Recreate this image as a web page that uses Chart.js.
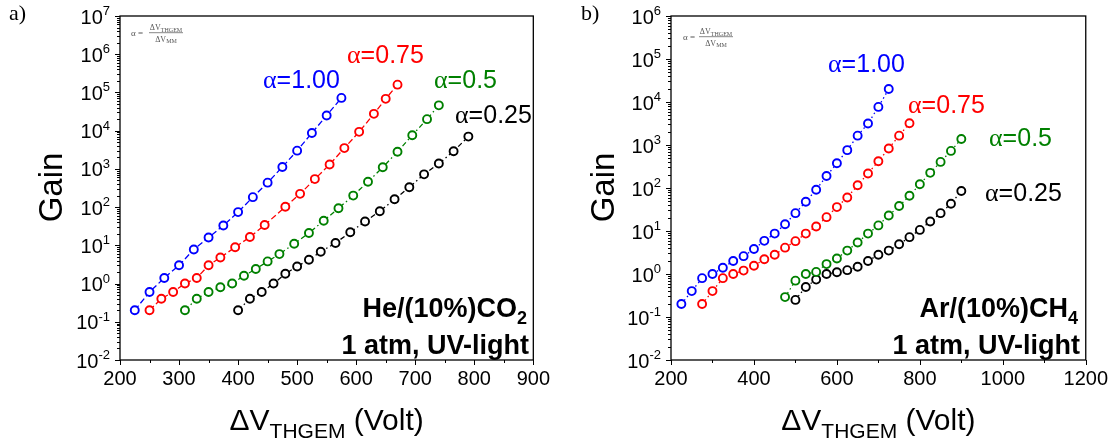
<!DOCTYPE html>
<html>
<head>
<meta charset="utf-8">
<script src="https://cdn.jsdelivr.net/npm/chart.js@4.4.1/dist/chart.umd.min.js"></script>
<style>
  body { margin: 0; background: #fff; }
  #wrap { position: relative; width: 1115px; height: 446px; overflow: hidden; }
  canvas { position: absolute; top: 0; }
</style>
</head>
<body>
<div id="wrap">
  <canvas id="chartHe" width="557" height="446" style="left:0px"></canvas>
  <canvas id="chartAr" width="558" height="446" style="left:557px"></canvas>
</div>
<script>
/*
  Gain curves for two gas mixtures, one line per alpha value.
  Values.
*/

// He/(10%)CO2 panel
const heV100 = [225, 250, 275, 300, 325, 350, 375, 400, 425, 450, 475, 500, 525, 550, 575];
const heG100 = [0.2, 0.6, 1.4, 3.0, 7.8, 16, 33, 74, 182, 436, 1120, 3000, 8700, 25000, 72000];
const heV075 = [250, 270, 290, 310, 330, 350, 370, 395, 420, 445, 480, 505, 530, 555, 580, 605, 630, 650, 670];
const heG075 = [0.2, 0.4, 0.6, 1.0, 1.4, 3.0, 4.8, 8.9, 16.5, 34, 102, 222, 540, 1300, 3500, 9300, 27500, 68000, 160000];
const heV050 = [310, 330, 350, 370, 390, 410, 430, 450, 470, 495, 520, 545, 570, 595, 620, 645, 670, 695, 720, 740];
const heG050 = [0.2, 0.4, 0.6, 0.8, 1.0, 1.6, 2.4, 3.8, 5.9, 11, 21, 44, 93, 200, 460, 1100, 2800, 7600, 20000, 46000];
const heV025 = [400, 420, 440, 460, 480, 500, 520, 540, 565, 590, 615, 640, 665, 690, 715, 740, 765, 790];
const heG025 = [0.2, 0.4, 0.6, 1.0, 1.8, 2.8, 4.2, 6.8, 11.5, 22, 42, 78, 160, 330, 720, 1380, 2900, 7000];

// Ar/(10%)CH4 panel
const arV100 = [225, 250, 275, 300, 325, 350, 375, 400, 425, 450, 475, 500, 525, 550, 575, 600, 625, 650, 675, 700, 725];
const arG100 = [0.2, 0.4, 0.8, 1.0, 1.4, 2.0, 2.6, 3.8, 5.9, 8.7, 14.4, 26, 48, 91, 190, 375, 760, 1650, 3150, 7700, 20000];
const arV075 = [275, 300, 325, 350, 375, 400, 425, 450, 475, 500, 525, 550, 575, 600, 625, 650, 675, 700, 725, 750, 775];
const arG075 = [0.2, 0.4, 0.8, 1.0, 1.2, 1.55, 2.2, 2.8, 4.1, 5.8, 8.7, 12.7, 21, 36, 60, 116, 218, 420, 830, 1650, 3200];
const arV050 = [475, 500, 525, 550, 575, 600, 625, 650, 675, 700, 725, 750, 775, 800, 825, 850, 875, 900];
const arG050 = [0.29, 0.7, 1.0, 1.12, 1.7, 2.3, 3.5, 5.4, 8.7, 13.5, 23, 38, 66, 122, 225, 405, 730, 1380];
const arV025 = [500, 525, 550, 575, 600, 625, 650, 675, 700, 725, 750, 775, 800, 825, 850, 875, 900];
const arG025 = [0.25, 0.5, 0.74, 1.0, 1.1, 1.23, 1.47, 2.0, 2.8, 3.5, 4.9, 7.2, 10.6, 16.6, 26, 43, 85];

const alphaNames = ["1.00", "0.75", "0.5", "0.25"];
const heXTicks = [200, 300, 400, 500, 600, 700, 800, 900];
const arXTicks = [200, 400, 600, 800, 1000, 1200];

const SANS = "'Liberation Sans', Arial, sans-serif";
const SERIF = "'Liberation Serif', 'Times New Roman', serif";
const BLUE = "#0000ff", RED = "#ff0000", GREEN = "#008000", BLACK = "#000000";

function pairs(xs, ys) {
  return xs.map((x, i) => ({ x: x, y: ys[i] }));
}

function series(xs, ys, color, dash) {
  return {
    data: pairs(xs, ys),
    showLine: true,
    borderColor: color,
    borderWidth: 1.3,
    borderDash: dash,
    pointRadius: 4,
    pointBorderWidth: 1.9,
    pointBorderColor: color,
    pointBackgroundColor: "#ffffff",
    pointHoverRadius: 4,
  };
}

// draws a row of text pieces (for sub/superscripts)
function drawRuns(ctx, x, y, parts, align) {
  let w = 0;
  parts.forEach(function (p) { ctx.font = p.f; w += ctx.measureText(p.t).width; });
  let cx = x;
  if (align === "right") cx = x - w;
  if (align === "center") cx = x - w / 2;
  parts.forEach(function (p) {
    ctx.font = p.f;
    ctx.fillStyle = p.c || "#000";
    ctx.fillText(p.t, cx, y + (p.dy || 0));
    cx += ctx.measureText(p.t).width;
  });
}

function alphaLabel(name, color) {
  return [
    { t: "\u03b1", f: "26px " + SERIF, c: color },
    { t: "=" + name, f: "25px " + SANS, c: color },
  ];
}

const decor = {
  id: "decor",
  afterDraw(chart, args, o) {
    const ctx = chart.ctx;
    const a = chart.chartArea;
    const xs = chart.scales.x;
    const ys = chart.scales.y;
    ctx.save();
    ctx.textAlign = "left";
    ctx.textBaseline = "alphabetic";

    // frame
    ctx.strokeStyle = "#000";
    ctx.lineWidth = 1.3;
    ctx.strokeRect(a.left, a.top, a.right - a.left, a.bottom - a.top);

    // tick marks, outward
    ctx.lineWidth = 1;
    ctx.beginPath();
    for (let e = o.expMin; e <= o.expMax; e++) {
      for (let m = 1; m <= 9; m++) {
        if (e === o.expMax && m > 1) break;
        const py = Math.round(ys.getPixelForValue(m * Math.pow(10, e))) + 0.5;
        const len = m === 1 ? 5 : 3;
        ctx.moveTo(a.left - len, py);
        ctx.lineTo(a.left, py);
      }
    }
    for (let v = xs.min; v <= xs.max; v += o.xMinor) {
      const px = Math.round(xs.getPixelForValue(v)) + 0.5;
      const len = (v - xs.min) % o.xMajor === 0 ? 5 : 3;
      ctx.moveTo(px, a.bottom);
      ctx.lineTo(px, a.bottom + len);
    }
    ctx.stroke();

    // y tick labels 10^n
    for (let e = o.expMin; e <= o.expMax; e++) {
      const py = ys.getPixelForValue(Math.pow(10, e));
      drawRuns(ctx, a.left - 10, py + 7.5, [
        { t: "10", f: "20px " + SANS },
        { t: String(e), f: "13px " + SANS, dy: -8.5 },
      ], "right");
    }

    // panel letter
    ctx.fillStyle = "#000";
    ctx.font = "22px " + SERIF;
    ctx.fillText(o.letter, o.letterX, 20);

    // alpha definition
    const f = o.formula;
    drawRuns(ctx, f.x, f.y + 3, [{ t: "\u03b1 =", f: "9px " + SERIF, c: "#555" }], "left");
    drawRuns(ctx, f.cx, f.y - 2.5, [
      { t: "\u0394V", f: "8px " + SERIF, c: "#555" },
      { t: "THGEM", f: "6px " + SERIF, c: "#555", dy: 1.5 },
    ], "center");
    drawRuns(ctx, f.cx, f.y + 9, [
      { t: "\u0394V", f: "8px " + SERIF, c: "#555" },
      { t: "MM", f: "6px " + SERIF, c: "#555", dy: 1.5 },
    ], "center");
    ctx.strokeStyle = "#555";
    ctx.lineWidth = 0.7;
    ctx.beginPath();
    ctx.moveTo(f.cx - 17, f.y);
    ctx.lineTo(f.cx + 17, f.y);
    ctx.stroke();

    // alpha labels
    o.alphas.forEach(function (l) {
      drawRuns(ctx, l.x, l.y, alphaLabel(l.name, l.c), "left");
    });

    // gas description
    drawRuns(ctx, o.gasRight, 317, o.gas, "right");
    drawRuns(ctx, o.gasRight + 2, 354, [{ t: "1 atm, UV-light", f: "bold 27px " + SANS }], "right");

    // axis titles
    drawRuns(ctx, (a.left + a.right) / 2, 430, [
      { t: "\u0394V", f: "30px " + SANS },
      { t: "THGEM", f: "21px " + SANS, dy: 8 },
      { t: " (Volt)", f: "30px " + SANS },
    ], "center");
    ctx.save();
    ctx.translate(o.gainX, 187.5);
    ctx.rotate(-Math.PI / 2);
    ctx.fillStyle = "#000";
    ctx.font = "33px " + SANS;
    ctx.textAlign = "center";
    ctx.textBaseline = "middle";
    ctx.fillText("Gain", 0, 0);
    ctx.restore();

    ctx.restore();
  },
};

function makeChart(id, sets, xMax, xStep, yMax, yWidth, rightPad, deco) {
  return new Chart(document.getElementById(id), {
    type: "scatter",
    data: { datasets: sets },
    options: {
      responsive: false,
      animation: false,
      events: [],
      layout: { padding: { left: 0, right: rightPad, top: 16, bottom: 0 } },
      plugins: { legend: { display: false }, tooltip: { enabled: false }, decor: deco },
      scales: {
        x: {
          type: "linear",
          min: 200,
          max: xMax,
          grid: { display: false, drawTicks: false },
          border: { display: false },
          ticks: {
            stepSize: xStep,
            padding: 7,
            color: "#000",
            font: { family: SANS, size: 20 },
            maxRotation: 0,
            callback: (v) => String(v),
          },
          afterFit(scale) { scale.height = 86; },
        },
        y: {
          type: "logarithmic",
          min: 0.01,
          max: yMax,
          grid: { display: false, drawTicks: false },
          border: { display: false },
          ticks: { display: false },
          afterFit(scale) { scale.width = yWidth; },
        },
      },
    },
    plugins: [decor],
  });
}

const dashA = [6, 3];
const dashB = [5, 3, 1.5, 3];
const dot = [1.5, 3];

makeChart("chartHe", [
  series(heV100, heG100, BLUE, dashA),
  series(heV075, heG075, RED, dashA),
  series(heV050, heG050, GREEN, dashB),
  series(heV025, heG025, BLACK, dashB),
], heXTicks[heXTicks.length - 1], heXTicks[1] - heXTicks[0], 1e7, 120, 19, {
  expMin: -2, expMax: 7, xMinor: 50, xMajor: 100,
  letter: "a)", letterX: 9,
  formula: { x: 131, y: 32.7, cx: 166 },
  alphas: [
    { name: alphaNames[0], c: BLUE, x: 263, y: 88 },
    { name: alphaNames[1], c: RED, x: 347, y: 63 },
    { name: alphaNames[2], c: GREEN, x: 434, y: 88 },
    { name: alphaNames[3], c: BLACK, x: 455, y: 123 },
  ],
  gasRight: 527,
  gas: [
    { t: "He/(10%)CO", f: "bold 27px " + SANS },
    { t: "2", f: "bold 18px " + SANS, dy: 7 },
  ],
  gainX: 53,
});

makeChart("chartAr", [
  series(arV100, arG100, BLUE, dot),
  series(arV075, arG075, RED, dot),
  series(arV050, arG050, GREEN, dot),
  series(arV025, arG025, BLACK, dot),
], arXTicks[arXTicks.length - 1], arXTicks[1] - arXTicks[0], 1e6, 114, 25, {
  expMin: -2, expMax: 6, xMinor: 100, xMajor: 200,
  letter: "b)", letterX: 24,
  formula: { x: 126, y: 36.7, cx: 159 },
  alphas: [
    { name: alphaNames[0], c: BLUE, x: 271, y: 72 },
    { name: alphaNames[1], c: RED, x: 351, y: 113 },
    { name: alphaNames[2], c: GREEN, x: 432, y: 146 },
    { name: alphaNames[3], c: BLACK, x: 428, y: 201 },
  ],
  gasRight: 521,
  gas: [
    { t: "Ar/(10%)CH", f: "bold 27px " + SANS },
    { t: "4", f: "bold 18px " + SANS, dy: 7 },
  ],
  gainX: 48,
});
</script>
</body>
</html>
